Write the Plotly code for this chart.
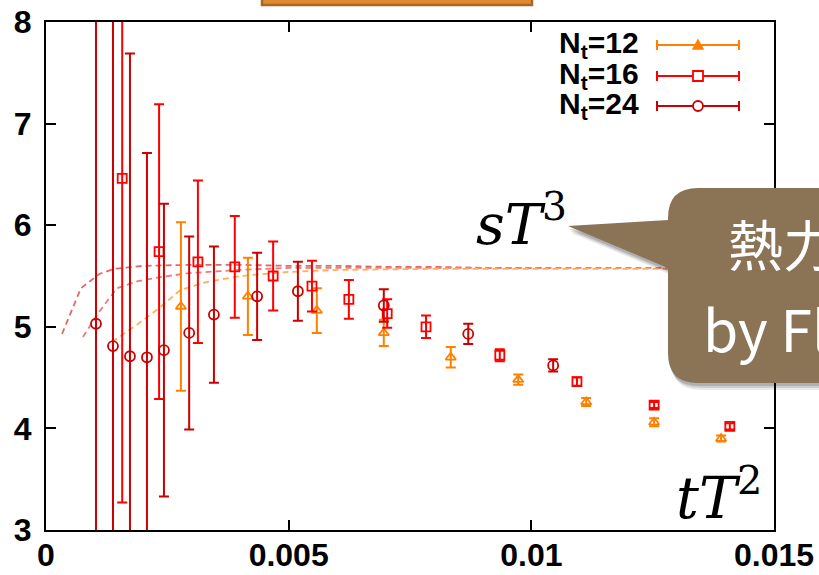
import plotly.graph_objects as go

# ---- entropy density  s/T^3  vs flow time  tT^2 ----
nt12_x = [0.00278, 0.00416, 0.00558, 0.00696, 0.00834, 0.00973, 0.01113, 0.01253, 0.01391]
nt12_y = [5.20, 5.30, 5.16, 4.94, 4.70, 4.48, 4.26, 4.06, 3.90]
nt12_e = [0.83, 0.38, 0.22, 0.13, 0.10, 0.05, 0.04, 0.04, 0.03]

nt16_x = [0.00157, 0.00233, 0.00313, 0.00389, 0.00468, 0.00548, 0.00624, 0.00703,
          0.00783, 0.00935, 0.01094, 0.01253, 0.01409]
nt16_y = [6.46, 5.74, 5.64, 5.59, 5.50, 5.40, 5.27, 5.13, 5.00, 4.72, 4.46, 4.23, 4.02]
nt16_e = [3.19, 1.45, 0.80, 0.50, 0.34, 0.25, 0.19, 0.14, 0.11, 0.06, 0.04, 0.03, 0.03]

nt24_x = [0.00103, 0.00138, 0.00173, 0.00208, 0.00243, 0.00295, 0.00346, 0.00435,
          0.00519, 0.00696, 0.00870, 0.01045]
nt24_y = [5.03, 4.81, 4.71, 4.70, 4.77, 4.94, 5.12, 5.30, 5.35, 5.21, 4.93, 4.62]
nt24_e = [3.60, 3.40, 2.98, 2.01, 1.44, 0.95, 0.67, 0.43, 0.29, 0.16, 0.10, 0.06]

# continuum-extrapolation style dashed curves
curve24_x = [0.00033, 0.00072, 0.00110, 0.00140, 0.0020, 0.0030, 0.0040, 0.0050,
             0.0060, 0.0070, 0.0080, 0.0090, 0.0100, 0.0104]
curve24_y = [4.93, 5.38, 5.52, 5.57, 5.60, 5.61, 5.61, 5.60, 5.60, 5.59, 5.59, 5.58, 5.58, 5.58]
curve16_x = [0.00076, 0.00110, 0.00146, 0.0019, 0.00235, 0.0030, 0.0040, 0.0050,
             0.0060, 0.0080, 0.0100, 0.0120, 0.0141]
curve16_y = [4.90, 5.15, 5.38, 5.45, 5.49, 5.53, 5.56, 5.58, 5.58, 5.58, 5.58, 5.58, 5.58]
curve12_x = [0.00136, 0.0019, 0.00235, 0.00276, 0.0033, 0.0040, 0.0050, 0.0060,
             0.0080, 0.0100, 0.0120, 0.0139]
curve12_y = [4.85, 5.03, 5.19, 5.36, 5.44, 5.50, 5.54, 5.56, 5.57, 5.57, 5.57, 5.57]

x_ticks = [0, 0.005, 0.01, 0.015]
x_tick_labels = ["0", "0.005", "0.01", "0.015"]
y_ticks = [3, 4, 5, 6, 7, 8]

legend_labels = ["N<sub>t</sub>=12", "N<sub>t</sub>=16", "N<sub>t</sub>=24"]

C12, C16, C24 = "#ff8000", "#ff0000", "#cc0000"
TICK_FONT = "Liberation Sans Narrow, Arial Narrow, Liberation Sans"

fig = go.Figure()

for cx, cy, col in [(curve24_x, curve24_y, "#e06a6a"),
                    (curve16_x, curve16_y, "#f07a7a"),
                    (curve12_x, curve12_y, "#ffae5c")]:
    fig.add_trace(go.Scatter(x=cx, y=cy, mode="lines",
                             line=dict(color=col, width=1.8, dash="6px,4px"),
                             showlegend=False, hoverinfo="skip"))

for xs, ys, es, col, sym, sz in [
        (nt12_x, nt12_y, nt12_e, C12, "triangle-up-open", 9),
        (nt16_x, nt16_y, nt16_e, C16, "square-open", 9),
        (nt24_x, nt24_y, nt24_e, C24, "circle-open", 10)]:
    fig.add_trace(go.Scatter(
        x=xs, y=ys, mode="markers",
        marker=dict(symbol=sym, size=sz, color=col, line=dict(color=col, width=1.8)),
        error_y=dict(type="data", array=es, visible=True, color=col, thickness=2, width=5),
        showlegend=False))

# pixel -> paper helpers for decorations (plot area 46..774 x 22..530)
def fx(p):
    return (p - 46) / 728.0


def fy(p):
    return (530 - p) / 508.0


shapes = []
annotations = []

# legend: label on the left, horizontal error-bar sample on the right
rows_y = [45, 76, 106]
for lab, col, ry, kind in zip(legend_labels, [C12, C16, C24], rows_y, ["tri", "sq", "circ"]):
    annotations.append(dict(xref="paper", yref="paper", x=fx(641), y=fy(ry - 1),
                            xanchor="right", yanchor="middle", showarrow=False,
                            text="<b>" + lab + "</b>",
                            font=dict(family=TICK_FONT, size=30, color="black")))
    shapes.append(dict(type="line", xref="paper", yref="paper", x0=fx(657), x1=fx(739),
                       y0=fy(ry), y1=fy(ry), line=dict(color=col, width=2)))
    for ex in (657, 739):
        shapes.append(dict(type="line", xref="paper", yref="paper", x0=fx(ex), x1=fx(ex),
                           y0=fy(ry - 5), y1=fy(ry + 5), line=dict(color=col, width=2)))
    cx = 698
    if kind == "tri":
        path = "M {} {} L {} {} L {} {} Z".format(fx(cx - 5), fy(ry + 4), fx(cx + 5), fy(ry + 4),
                                                  fx(cx), fy(ry - 5))
        shapes.append(dict(type="path", xref="paper", yref="paper", path=path,
                           fillcolor=col, line=dict(color=col, width=1.5)))
    elif kind == "sq":
        shapes.append(dict(type="rect", xref="paper", yref="paper",
                           x0=fx(cx - 5), x1=fx(cx + 5), y0=fy(ry - 5), y1=fy(ry + 5),
                           fillcolor="white", line=dict(color=col, width=1.8)))
    else:
        shapes.append(dict(type="circle", xref="paper", yref="paper",
                           x0=fx(cx - 5), x1=fx(cx + 5), y0=fy(ry - 5), y1=fy(ry + 5),
                           fillcolor="white", line=dict(color=col, width=1.8)))

# orange banner peeking in at the top
shapes.append(dict(type="rect", xref="paper", yref="paper",
                   x0=fx(262), x1=fx(532), y0=fy(5), y1=fy(-20),
                   fillcolor="#e08a30", line=dict(color="#a9662a", width=2.5)))


# speech-bubble callout
def bubble(dx=0, dy=0):
    L, T, R, B, r = 668 + dx, 188 + dy, 900 + dx, 383 + dy, 30
    pts = [
        ("M", (L + r, T)), ("L", (R, T)), ("L", (R, B)), ("L", (L + r, B)),
        ("Q", (L, B), (L, B - r)), ("L", (L, 268 + dy)), ("L", (568 + dx, 226 + dy)),
        ("L", (L, 220 + dy)), ("L", (L, T + r)), ("Q", (L, T), (L + r, T)),
    ]
    out = []
    for seg in pts:
        cmd = seg[0]
        coords = " ".join("{:.5f},{:.5f}".format(fx(p[0]), fy(p[1])) for p in seg[1:])
        out.append(cmd + coords)
    return " ".join(out) + " Z"


for (dx, dy, a) in [(3, 7, 0.08), (2, 5, 0.12), (1, 3, 0.15)]:
    shapes.append(dict(type="path", xref="paper", yref="paper", path=bubble(dx, dy),
                       fillcolor="rgba(0,0,0,{})".format(a), line=dict(width=0)))
shapes.append(dict(type="path", xref="paper", yref="paper", path=bubble(),
                   fillcolor="#8b7356", line=dict(width=0)))

annotations.append(dict(xref="paper", yref="paper", x=fx(726), y=fy(242),
                        xanchor="left", yanchor="middle", showarrow=False,
                        text="熱力学量",
                        font=dict(family="Noto Sans CJK JP", size=55, color="white")))
annotations.append(dict(xref="paper", yref="paper", x=fx(701), y=fy(327),
                        xanchor="left", yanchor="middle", showarrow=False,
                        text="by Flow",
                        font=dict(family="Noto Sans CJK JP", size=57, color="white")))

# axis-style math labels
annotations.append(dict(xref="paper", yref="paper", x=fx(569), y=fy(220),
                        xanchor="right", yanchor="middle", showarrow=False,
                        text="<i>sT</i><sup>3</sup>",
                        font=dict(family="DejaVu Serif", size=56, color="black")))
annotations.append(dict(xref="paper", yref="paper", x=fx(764), y=fy(494),
                        xanchor="right", yanchor="middle", showarrow=False,
                        text="<i>tT</i><sup>2</sup>",
                        font=dict(family="DejaVu Serif", size=57, color="black")))

axis_common = dict(showgrid=False, zeroline=False, showline=True, linecolor="black",
                   linewidth=2, mirror="ticks", ticks="inside", ticklen=10,
                   tickwidth=2, tickcolor="black", automargin=False,
                   tickfont=dict(family=TICK_FONT, size=32, color="black", weight="bold"))

fig.update_layout(
    width=819, height=575,
    margin=dict(l=46, r=45, t=22, b=45),
    paper_bgcolor="white", plot_bgcolor="white",
    showlegend=False,
    xaxis=dict(range=[0, 0.015], tickvals=x_ticks, ticktext=x_tick_labels,
               ticklabelstandoff=-4, **axis_common),
    yaxis=dict(range=[3, 8], tickvals=y_ticks, ticklabelstandoff=6, **axis_common),
    shapes=shapes,
    annotations=annotations,
)

fig.write_html("out.html")
